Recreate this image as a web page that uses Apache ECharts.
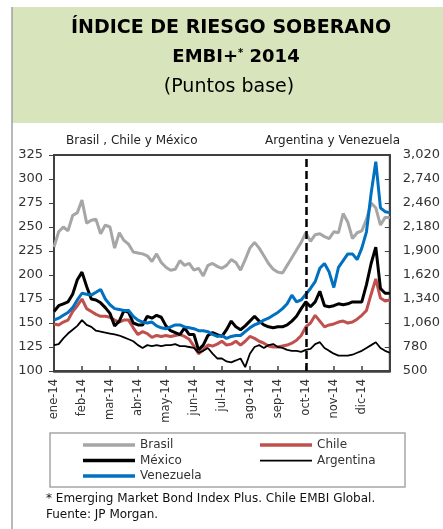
<!DOCTYPE html>
<html>
<head>
<meta charset="utf-8">
<script src="https://cdn.jsdelivr.net/npm/echarts@6/dist/echarts.min.js"></script>
<style>
  html, body { margin: 0; padding: 0; background: #fff; }
  #chart { width: 443px; height: 529px; }
</style>
</head>
<body>
<div id="chart"></div>
<script>
// month tick labels (x axis runs 0..12 in months)
const months = ['ene-14','feb-14','mar-14','abr-14','may-14','jun-14','jul-14','ago-14','sep-14','oct-14','nov-14','dic-14'];
const stepMonths = 1 / 6;   // one reading every ~5 days
const splitAt = 9;          // dashed line at start of oct

// left axis: Brasil, Chile, México (bps)
const brasil = [229,245,250,246,262,265,278,254,257,258,243,252,250,228,244,236,232,224,223,222,220,214,222,213,208,
  205,206,215,210,212,205,207,199,210,212,209,207,210,216,213,205,216,228,234,228,220,212,206,203,
  202,210,218,226,234,244,235,242,243,240,238,245,244,264,255,238,244,246,258,275,270,252,260,260];
const chile = [149,148,151,153,162,168,175,165,162,159,157,157,156,153,151,153,153,145,138,141,139,135,137,136,137,
  136,137,138,136,133,126,118,122,127,126,128,131,127,128,131,127,131,136,134,131,129,126,125,125,
  126,127,129,132,137,146,150,158,152,146,148,149,151,152,150,151,154,158,163,180,196,176,173,174];
const mexico = [162,168,170,172,180,195,203,188,175,174,171,166,160,147,152,163,161,150,148,148,157,155,158,156,147,
  142,140,138,145,138,138,122,127,137,140,138,136,143,152,146,143,147,152,157,152,148,146,145,146,
  146,148,152,157,165,172,167,172,183,168,167,168,170,169,170,172,172,172,190,212,229,186,181,181];
// right axis: Argentina, Venezuela (bps)
const argentina = [802,814,881,937,982,1026,1094,1038,1015,970,959,948,937,926,914,892,870,847,802,769,802,791,802,791,802,
  802,814,791,791,780,769,713,735,769,702,646,646,612,601,623,646,545,702,780,802,769,802,814,780,
  769,746,735,735,724,746,758,814,836,769,735,702,679,679,679,690,713,735,769,802,836,769,735,713];
const venezuela = [1094,1116,1150,1183,1239,1329,1407,1396,1385,1418,1452,1340,1273,1228,1217,1206,1206,1138,1094,1071,1060,1071,1026,1004,993,
  1015,1038,1038,1015,1004,993,970,970,959,926,903,914,881,903,914,914,959,
  1004,1038,1060,1094,1116,1150,1183,1228,1284,1385,1306,1329,1396,1463,1542,1698,1754,1654,1474,1710,1788,1866,1866,1799,1934,2124,2572,2942,2404,2359,2348];

const FONT = 'DejaVu Sans';
const toPts = arr => arr.map((v, i) => [i * stepMonths, v]);

const chart = echarts.init(document.getElementById('chart'), null, { renderer: 'canvas' });

const line = (name, data, color, width, axis) => ({
  name, type: 'line', data: toPts(data), yAxisIndex: axis,
  symbol: 'none', smooth: false, animation: false,
  lineStyle: { color, width }, itemStyle: { color }
});

const series = [
  line('Brasil', brasil, '#a6a6a6', 3, 0),
  line('Chile', chile, '#c0504d', 3, 0),
  line('México', mexico, '#000000', 3, 0),
  line('Argentina', argentina, '#000000', 1.8, 1),
  line('Venezuela', venezuela, '#0070c0', 3, 1)
];
series[0].markLine = {
  silent: true, symbol: 'none', label: { show: false },
  lineStyle: { color: '#000', width: 2.5, type: [8, 4] },
  data: [{ xAxis: splitAt }]
};

// thin bar for Argentina's legend key (extra moveTo points keep the box height)
const thinKey = 'path://M0,0 M0,4 M0,1 L52,1 L52,3 L0,3 Z';

const legendCommon = {
  orient: 'vertical', top: 434, itemWidth: 52, itemHeight: 3.5, itemGap: 3.5,
  icon: 'rect', symbolKeepAspect: false,
  textStyle: { fontFamily: FONT, fontSize: 12, color: '#333' }
};

chart.setOption({
  animation: false,
  backgroundColor: '#fff',
  grid: { left: 54, right: 43, top: 155, bottom: 158, show: true, borderColor: '#404040', borderWidth: 2 },
  xAxis: {
    type: 'value', min: 0, max: 12, interval: 1,
    splitLine: { show: false },
    axisLine: { lineStyle: { color: '#404040', width: 2.5 } },
    axisTick: { inside: true, length: 5, lineStyle: { color: '#404040', width: 1.5 } },
    axisLabel: {
      rotate: 90, margin: 8, fontFamily: FONT, fontSize: 11.5, color: '#333',
      formatter: v => months[v] || ''
    }
  },
  yAxis: [
    {
      type: 'value', min: 100, max: 325, interval: 25, position: 'left',
      splitLine: { show: false },
      axisLine: { show: true, lineStyle: { color: '#404040', width: 2 } },
      axisTick: { show: true, length: 5, lineStyle: { color: '#404040' } },
      axisLabel: { margin: 11, fontFamily: FONT, fontSize: 13, color: '#333' }
    },
    {
      type: 'value', min: 500, max: 3020, interval: 280, position: 'right',
      splitLine: { show: false },
      axisLine: { show: true, lineStyle: { color: '#404040', width: 2 } },
      axisTick: { show: true, inside: true, length: 5, lineStyle: { color: '#404040' } },
      axisLabel: {
        margin: 13, fontFamily: FONT, fontSize: 13, color: '#333',
        formatter: v => v.toLocaleString('en-US')
      }
    }
  ],
  legend: [
    Object.assign({ left: 78, data: ['Brasil', 'México', 'Venezuela'] }, legendCommon),
    Object.assign({ left: 255, data: ['Chile', { name: 'Argentina', icon: thinKey }] }, legendCommon)
  ],
  graphic: [
    { type: 'rect', z: -10, shape: { x: 12, y: 7, width: 431, height: 116 }, style: { fill: '#d8e4bc' } },
    { type: 'line', shape: { x1: 12, y1: 7, x2: 12, y2: 529 }, style: { stroke: '#a0a0a0', lineWidth: 1.5 } },
    { type: 'text', x: 231, y: 28, style: { text: 'ÍNDICE DE RIESGO SOBERANO', align: 'center', verticalAlign: 'middle',
        font: 'bold 19px "DejaVu Sans"', fill: '#000' } },
    { type: 'text', x: 236, y: 57, style: { text: '{b|EMBI+}{s|*}{b| 2014}', align: 'center', verticalAlign: 'middle',
        rich: { b: { font: 'bold 18px "DejaVu Sans"', fill: '#000' },
                s: { font: 'bold 10px "DejaVu Sans"', fill: '#000', verticalAlign: 'top', padding: [0, 0, 8, 0] } } } },
    { type: 'text', x: 229, y: 87, style: { text: '(Puntos base)', align: 'center', verticalAlign: 'middle',
        font: '19px "DejaVu Sans"', fill: '#000' } },
    { type: 'text', x: 66, y: 141, style: { text: 'Brasil , Chile y México', verticalAlign: 'middle',
        font: '12px "DejaVu Sans"', fill: '#222' } },
    { type: 'text', x: 400, y: 141, style: { text: 'Argentina y Venezuela', align: 'right', verticalAlign: 'middle',
        font: '12px "DejaVu Sans"', fill: '#222' } },
    { type: 'rect', shape: { x: 50, y: 433, width: 355, height: 54 }, style: { fill: 'none', stroke: '#a6a6a6', lineWidth: 1.5 } },
    { type: 'text', x: 46, y: 499, style: { text: '* Emerging Market Bond Index Plus. Chile EMBI Global.', verticalAlign: 'middle',
        font: '12px "DejaVu Sans"', fill: '#111' } },
    { type: 'text', x: 46, y: 515, style: { text: 'Fuente: JP Morgan.', verticalAlign: 'middle',
        font: '12px "DejaVu Sans"', fill: '#111' } }
  ],
  series
});
</script>
</body>
</html>
